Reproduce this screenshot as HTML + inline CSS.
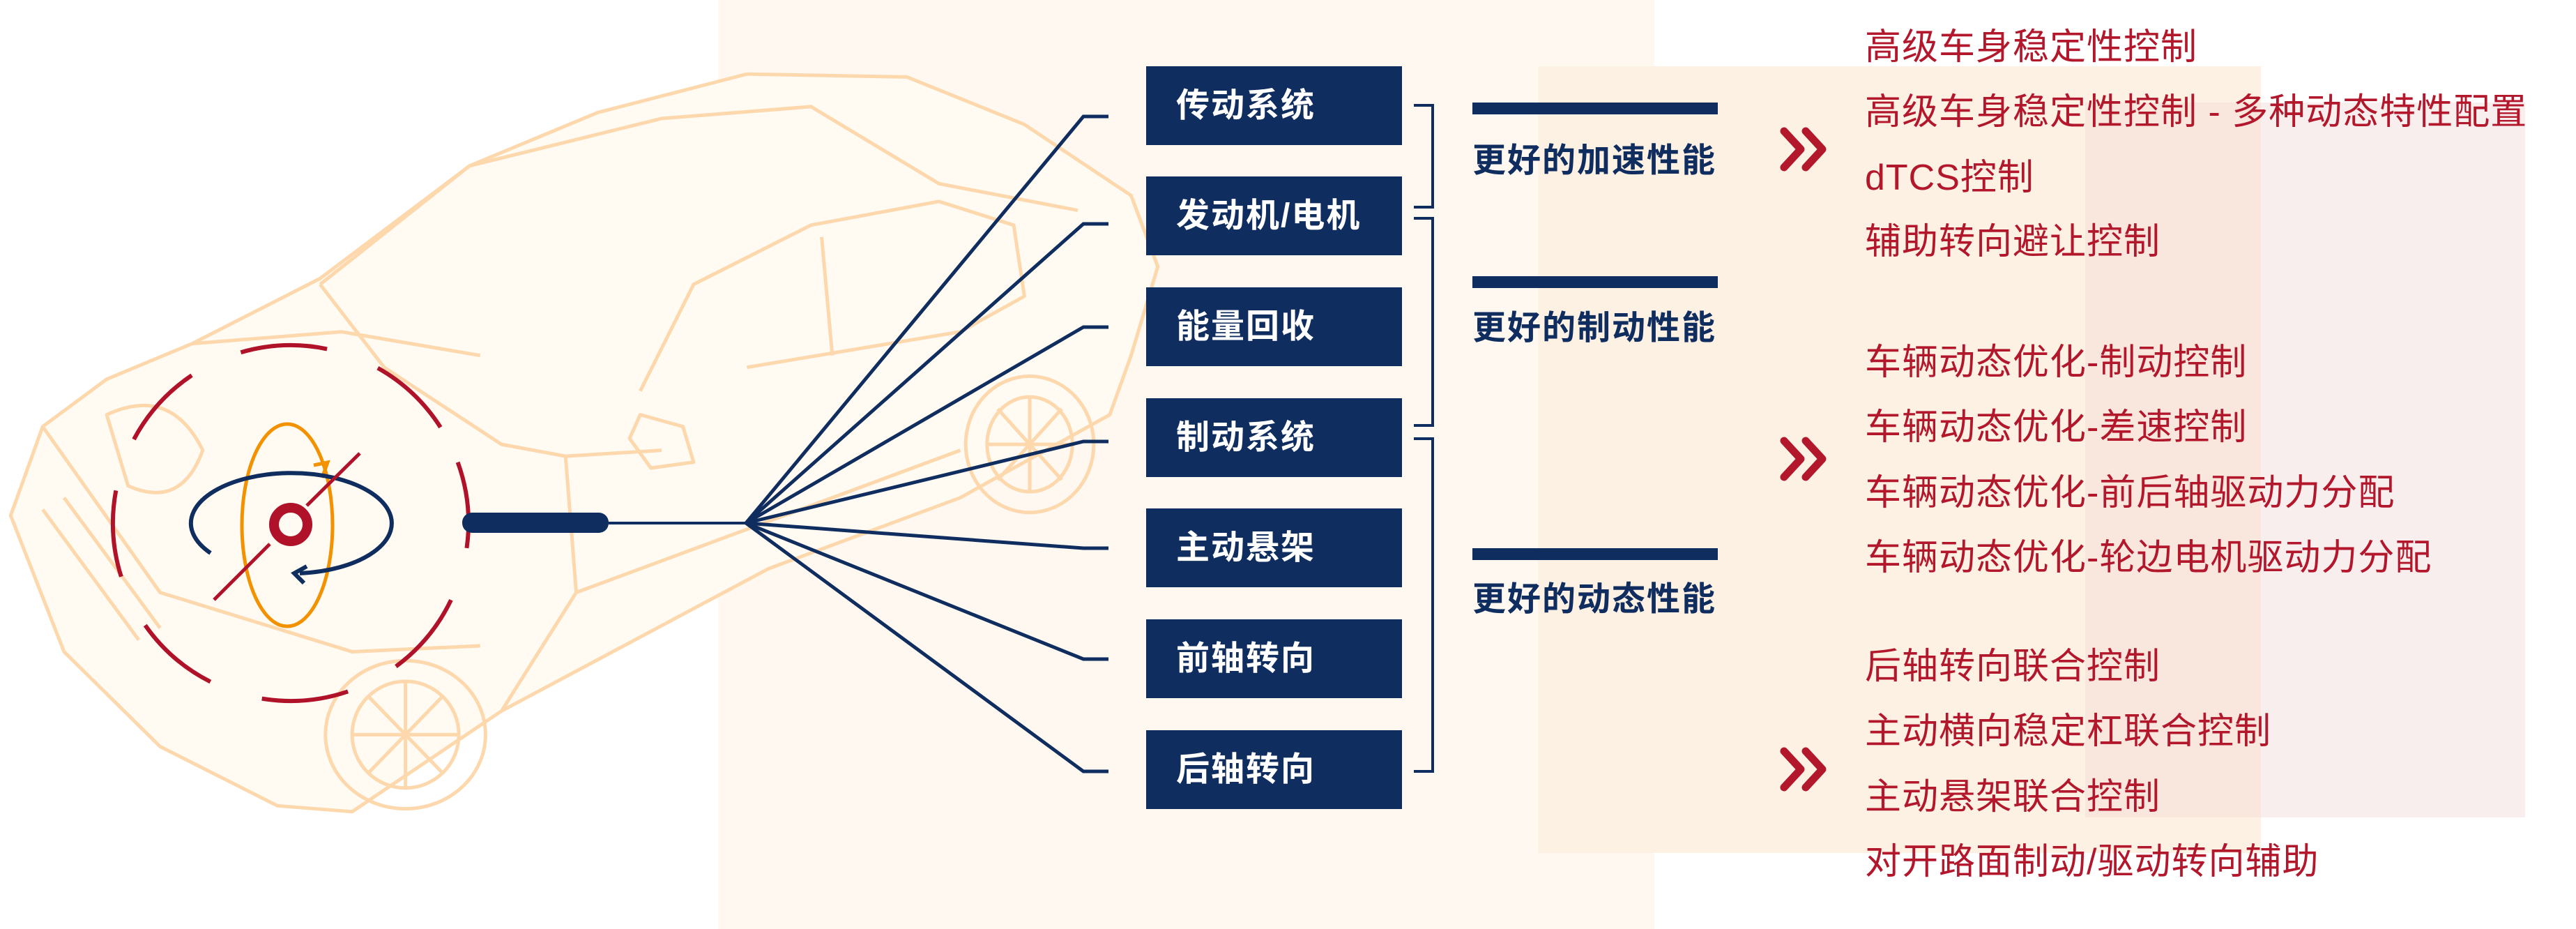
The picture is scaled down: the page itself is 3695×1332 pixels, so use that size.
<!DOCTYPE html>
<html><head><meta charset="utf-8">
<style>
html,body{margin:0;padding:0;}
body{width:3695px;height:1332px;position:relative;overflow:hidden;background:#fff;font-family:"Liberation Sans","Noto Sans CJK SC",sans-serif;}
.abs{position:absolute;}
.box{position:absolute;left:1644px;width:367px;height:113px;background:#0f2d5f;color:#fff;font-weight:bold;font-size:48px;line-height:113px;padding-left:43px;box-sizing:border-box;letter-spacing:2px;}
.cat{position:absolute;left:2112px;width:360px;color:#0f2d5f;font-weight:bold;font-size:48px;line-height:60px;letter-spacing:2px;white-space:nowrap;}
.bar{position:absolute;left:2112px;width:352px;height:17px;background:#0f2d5f;}
.red{position:absolute;left:2675px;color:#b3172b;font-size:52px;line-height:64px;white-space:nowrap;letter-spacing:1px;}
</style></head><body>
<div class="abs" style="left:1030px;top:0;width:1343px;height:1332px;background:#fef8f0;"></div>
<div class="abs" style="left:2206px;top:95px;width:1037px;height:1128px;background:#fdf1e4;"></div>
<div class="abs" style="left:2991px;top:147px;width:631px;height:1025px;background:#f9eeee;"></div>
<div class="abs" style="left:2991px;top:147px;width:252px;height:1025px;background:#f9e7de;"></div>

<svg class="abs" style="left:0;top:0" width="2400" height="1332">
 <g transform="scale(1.5306,0.8495)" fill="none" stroke="#fdd8ad" stroke-width="5" stroke-linejoin="round">
  <path vector-effect="non-scaling-stroke" fill="#fffaf2" d="M10,870 L40,720 L100,640 L180,580 L300,470 L440,280 L560,190 L700,125 L850,130 L960,210 L1060,330 L1085,450 L1060,600 L1040,700 L900,840 L720,960 L470,1200 L330,1370 L260,1360 L150,1260 L60,1100 Z"/>
  <path vector-effect="non-scaling-stroke" d="M300,480 L440,280 L620,200 L760,180 L880,310 L1010,355"/>
  <path vector-effect="non-scaling-stroke" d="M300,480 L360,620 L470,750 L530,770 L620,760"/>
  <path vector-effect="non-scaling-stroke" d="M600,660 L650,480 L760,380 L880,340 L950,380 L960,500 L900,560 L700,620"/>
  <path vector-effect="non-scaling-stroke" d="M530,770 L540,1000 L470,1200"/>
  <path vector-effect="non-scaling-stroke" d="M540,1000 L900,760"/>
  <path vector-effect="non-scaling-stroke" d="M770,400 L780,600"/>
  <path vector-effect="non-scaling-stroke" d="M40,720 L150,1000 L330,1100 L450,1090"/>
  <path vector-effect="non-scaling-stroke" d="M180,580 L320,560 L450,600"/>
  <path vector-effect="non-scaling-stroke" d="M40,860 L130,1080"/>
  <path vector-effect="non-scaling-stroke" d="M60,840 L150,1060"/>
  <path vector-effect="non-scaling-stroke" d="M100,700 Q160,650 190,760 Q170,860 120,820 Z"/>
  <ellipse vector-effect="non-scaling-stroke" cx="380" cy="1240" rx="75" ry="125"/>
  <ellipse vector-effect="non-scaling-stroke" cx="380" cy="1240" rx="50" ry="90"/>
  <path vector-effect="non-scaling-stroke" d="M380,1150 L380,1330 M330,1240 L430,1240 M345,1175 L415,1305 M415,1175 L345,1305"/>
  <ellipse vector-effect="non-scaling-stroke" cx="965" cy="750" rx="60" ry="115"/>
  <ellipse vector-effect="non-scaling-stroke" cx="965" cy="750" rx="40" ry="80"/>
  <path vector-effect="non-scaling-stroke" d="M965,670 L965,830 M925,750 L1005,750 M935,690 L995,810 M995,690 L935,810"/>
  <path vector-effect="non-scaling-stroke" d="M590,740 L600,700 L640,720 L650,780 L610,790 Z"/>
 </g>
 <circle cx="417" cy="750" r="255" fill="none" stroke="#b0122a" stroke-width="6" stroke-dasharray="125 78" transform="rotate(-20 417 750)"/>
 <ellipse cx="412" cy="753" rx="65" ry="145" fill="none" stroke="#f39200" stroke-width="5" stroke-dasharray="720 60"/>
 <path d="M462,685 l8,-22 l-20,4" fill="none" stroke="#f39200" stroke-width="5"/>
 <path d="M302,793 A144,72 0 1 1 430,822" fill="none" stroke="#0f2d5f" stroke-width="6"/>
 <path d="M440,812 l-18,10 l14,14" fill="none" stroke="#0f2d5f" stroke-width="6"/>
 <line x1="516" y1="650" x2="440" y2="725" stroke="#b0122a" stroke-width="5"/>
 <line x1="387" y1="780" x2="307" y2="860" stroke="#b0122a" stroke-width="5"/>
 <circle cx="417" cy="752" r="24" fill="none" stroke="#b0122a" stroke-width="14"/>
 <rect x="663" y="735" width="210" height="29" rx="14" fill="#0f2d5f"/>
 <line x1="873" y1="750" x2="1070" y2="750" stroke="#0f2d5f" stroke-width="4"/>
 <g fill="none" stroke="#0f2d5f" stroke-width="5">
  <polyline points="1070,750 1554,167 1590,167"/>
  <polyline points="1070,750 1554,321 1590,321"/>
  <polyline points="1070,750 1554,469 1590,469"/>
  <polyline points="1070,750 1554,633 1590,633"/>
  <polyline points="1070,750 1554,786 1590,786"/>
  <polyline points="1070,750 1554,945 1590,945"/>
  <polyline points="1070,750 1554,1106 1590,1106"/>
 </g>
</svg>

<div class="box" style="top:95px">传动系统</div>
<div class="box" style="top:253px">发动机/电机</div>
<div class="box" style="top:412px">能量回收</div>
<div class="box" style="top:571px">制动系统</div>
<div class="box" style="top:729px">主动悬架</div>
<div class="box" style="top:888px">前轴转向</div>
<div class="box" style="top:1047px">后轴转向</div>

<svg class="abs" style="left:2020px;top:140px" width="50" height="980">
 <g fill="none" stroke="#0f2d5f" stroke-width="4">
  <polyline points="8,11 35,11 35,157 8,157"/>
  <polyline points="8,173 35,173 35,470 8,470"/>
  <polyline points="8,489 35,489 35,966 8,966"/>
 </g>
</svg>

<div class="bar" style="top:147px"></div>
<div class="cat" style="top:201px">更好的加速性能</div>
<div class="bar" style="top:396px"></div>
<div class="cat" style="top:441px">更好的制动性能</div>
<div class="bar" style="top:786px"></div>
<div class="cat" style="top:830px">更好的动态性能</div>

<svg class="abs" style="left:2550px;top:180px" width="90" height="960">
 <g fill="none" stroke="#b3172b" stroke-width="11" stroke-linecap="round" stroke-linejoin="round">
  <polyline points="9,8 33,34 9,60"/><polyline points="40,8 64,34 40,60"/>
  <polyline points="9,452 33,478 9,504"/><polyline points="40,452 64,478 40,504"/>
  <polyline points="9,897 33,923 9,949"/><polyline points="40,897 64,923 40,949"/>
 </g>
</svg>

<div class="red" style="top:36px">高级车身稳定性控制</div>
<div class="red" style="top:129px">高级车身稳定性控制 - 多种动态特性配置</div>
<div class="red" style="top:223px">dTCS控制</div>
<div class="red" style="top:315px">辅助转向避让控制</div>
<div class="red" style="top:488px">车辆动态优化-制动控制</div>
<div class="red" style="top:581px">车辆动态优化-差速控制</div>
<div class="red" style="top:675px">车辆动态优化-前后轴驱动力分配</div>
<div class="red" style="top:768px">车辆动态优化-轮边电机驱动力分配</div>
<div class="red" style="top:924px">后轴转向联合控制</div>
<div class="red" style="top:1017px">主动横向稳定杠联合控制</div>
<div class="red" style="top:1111px">主动悬架联合控制</div>
<div class="red" style="top:1204px">对开路面制动/驱动转向辅助</div>
</body></html>
